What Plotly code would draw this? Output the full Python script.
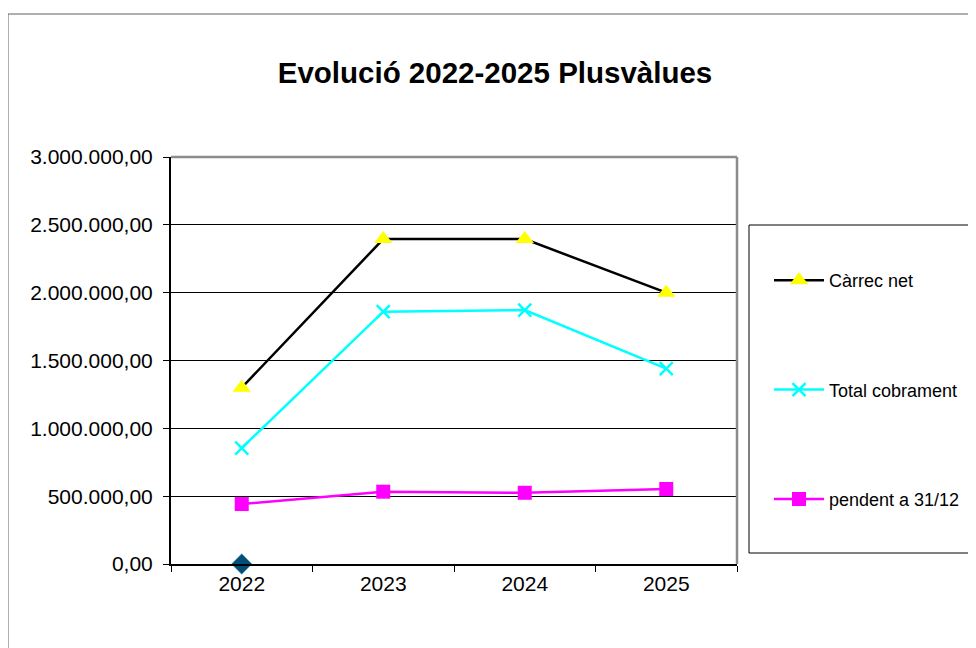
import plotly.graph_objects as go

years = ["2022", "2023", "2024", "2025"]
carrec_net = [1300000, 2395000, 2395000, 2000000]
total_cobrament = [855000, 1860000, 1872000, 1440000]
pendent = [442000, 533000, 525000, 553000]
extra_serie = [0, None, None, None]
y_ticks = [0, 500000, 1000000, 1500000, 2000000, 2500000, 3000000]

W, H = 976, 648
OFF = 8  # page body margin offset
L, R, T, B = 171 - OFF, 737 - OFF, 157 - OFF, 564 - OFF

def px(x):
    return (x - OFF - L) / (R - L)

def py(y):
    return (B - (y - OFF)) / (B - T)

fig = go.Figure()
fig.add_trace(go.Scatter(
    x=years, y=carrec_net, name="Càrrec net", mode="lines+markers",
    line=dict(color="#000000", width=2.5),
    marker=dict(symbol="triangle-up", color="#FFFF00", size=16),
    legendgroup="a"))
fig.add_trace(go.Scatter(
    x=years, y=total_cobrament, name="Total cobrament", mode="lines+markers",
    line=dict(color="#00FFFF", width=2.5),
    marker=dict(symbol="x-thin", size=13, line=dict(color="#00FFFF", width=2.5)),
    legendgroup="b"))
fig.add_trace(go.Scatter(
    x=years, y=pendent, name="pendent a 31/12", mode="lines+markers",
    line=dict(color="#FF00FF", width=2.5),
    marker=dict(symbol="square", color="#FF00FF", size=14),
    legendgroup="c"))
fig.add_trace(go.Scatter(
    x=years, y=extra_serie, mode="markers", showlegend=False, cliponaxis=False,
    marker=dict(symbol="diamond", color="#004F7A", size=16,
                line=dict(color="#C8DCD4", width=0.5))))

font = "Liberation Sans, Arial, sans-serif"

fig.update_layout(
    width=W, height=H,
    margin=dict(l=L, r=W - R, t=T, b=H - B),
    paper_bgcolor="white", plot_bgcolor="white",
    separators=",.",
    font=dict(family=font, color="#000000"),
    title=dict(text="<b>Evolució 2022-2025 Plusvàlues</b>",
               font=dict(size=29.5, family=font, color="#000000"),
               x=(495 - OFF) / W, xanchor="center",
               y=1 - (73 - OFF) / H, yanchor="middle"),
    xaxis=dict(type="category", range=[-0.5, 3.5], tickson="boundaries",
               ticks="outside", ticklen=6, tickcolor="#000000", tickwidth=1,
               showline=True, linecolor="#000000", linewidth=2,
               showgrid=False, tickfont=dict(size=21, family=font),
               fixedrange=True),
    yaxis=dict(range=[0, 3000000], tickvals=y_ticks, tickformat=",.2f",
               ticks="outside", ticklen=6, tickcolor="#000000", tickwidth=1,
               showline=True, linecolor="#000000", linewidth=2,
               showgrid=True, gridcolor="#000000", gridwidth=1,
               zeroline=False, tickfont=dict(size=21, family=font),
               ticklabelstandoff=6, fixedrange=True),
    legend=dict(x=px(769), y=py(262), xanchor="left", yanchor="top",
                font=dict(size=18, family=font), tracegroupgap=83,
                bgcolor="rgba(0,0,0,0)", borderwidth=0, itemwidth=50),
    showlegend=True,
)

# outer chart border
fig.add_shape(type="rect", xref="paper", yref="paper",
              x0=px(8), x1=px(1000), y0=py(680), y1=py(14),
              line=dict(color="#606060", width=1), layer="below")
# legend box
fig.add_shape(type="rect", xref="paper", yref="paper",
              x0=px(749), x1=px(1000), y0=py(553), y1=py(225),
              line=dict(color="#000000", width=1), layer="below")
# plot area border (top and right, gray)
fig.add_shape(type="line", xref="paper", yref="paper",
              x0=0, x1=1, y0=1, y1=1,
              line=dict(color="#8C8C8C", width=2.5), layer="above")
fig.add_shape(type="line", xref="paper", yref="paper",
              x0=1, x1=1, y0=0, y1=1,
              line=dict(color="#8C8C8C", width=2.5), layer="above")

fig.write_html("out.html")
